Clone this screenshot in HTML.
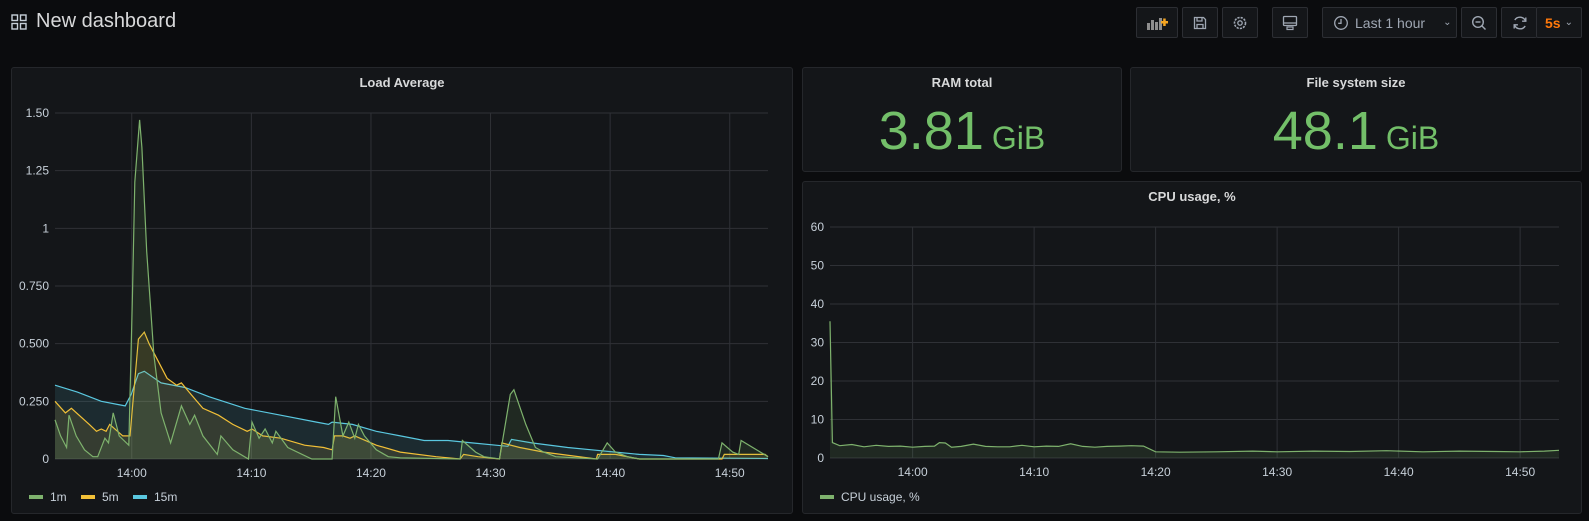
<!DOCTYPE html>
<html><head><meta charset="utf-8">
<style>
html,body{margin:0;padding:0;background:#0b0c0e;width:1589px;height:521px;overflow:hidden;font-family:"Liberation Sans",sans-serif;color:#d8d9da}
.abs{position:absolute}
.panel{position:absolute;background:#141619;border:1px solid #25272b;border-radius:3px;box-sizing:border-box}
.ptitle{position:absolute;left:0;right:0;text-align:center;font-size:13px;font-weight:bold;color:#d8d9da;top:7px}
.btn{position:absolute;top:7px;height:31px;border:1px solid #2c2e33;border-radius:2px;background:#141619;box-sizing:border-box;display:flex;align-items:center;justify-content:center;color:#9fa7b3;font-size:14px}
.big{position:absolute;left:0;right:0;text-align:center;top:32px;color:#73bf69;font-family:"Liberation Sans Narrow","Liberation Sans",sans-serif;white-space:nowrap}
.big .n{font-size:54px}
.big .u{font-size:32px;margin-left:8px}
</style></head><body>
<div class="abs" style="left:11px;top:14px;width:16px;height:16px">
<svg width="16" height="16"><g fill="none" stroke="#c7d0d9" stroke-width="1.4"><rect x="1" y="1" width="5.5" height="5.5"/><rect x="9.5" y="1" width="5.5" height="5.5"/><rect x="1" y="9.5" width="5.5" height="5.5"/><rect x="9.5" y="9.5" width="5.5" height="5.5"/></g></svg></div>
<div class="abs" style="left:36px;top:10px;font-size:20px;color:#d8d9da">New dashboard</div>

<div class="btn" style="left:1136px;width:42px"><svg width="22" height="14"><g fill="#8e8e8e"><rect x="1" y="7" width="3" height="7"/><rect x="5" y="4" width="3" height="10"/><rect x="9" y="6" width="3" height="8"/><rect x="13" y="2" width="3" height="12"/></g><g fill="#f5a623"><rect x="15" y="5" width="7" height="2.5"/><rect x="17.2" y="2.5" width="2.5" height="7.5"/></g></svg></div>
<div class="btn" style="left:1182px;width:36px"><svg width="14" height="14"><path d="M1.5 1.5h9l2 2v9h-11z M4 1.5v3.5h5v-3.5 M4 12.5v-4h6v4" fill="none" stroke="#9fa7b3" stroke-width="1.3"/></svg></div>
<div class="btn" style="left:1222px;width:36px"><svg width="16" height="16"><circle cx="8" cy="8" r="5.5" fill="none" stroke="#9fa7b3" stroke-width="1.6" stroke-dasharray="2.2 1.1"/><circle cx="8" cy="8" r="2.2" fill="none" stroke="#9fa7b3" stroke-width="1.3"/></svg></div>
<div class="btn" style="left:1272px;width:36px"><svg width="16" height="16"><rect x="1.5" y="1.5" width="13" height="9" rx="1" fill="none" stroke="#9fa7b3" stroke-width="1.3"/><line x1="1.5" y1="8" x2="14.5" y2="8" stroke="#9fa7b3" stroke-width="1.3"/><rect x="5" y="12" width="6" height="2.5" fill="none" stroke="#9fa7b3" stroke-width="1.2"/></svg></div>
<div class="btn" style="left:1322px;width:135px;justify-content:flex-start;padding-left:10px"><svg width="16" height="16"><circle cx="8" cy="8" r="6.3" fill="none" stroke="#9fa7b3" stroke-width="1.3"/><path d="M8 4v4.3h-2.8" fill="none" stroke="#9fa7b3" stroke-width="1.3"/></svg><span style="margin-left:6px;color:#9fa7b3">Last 1 hour</span><span style="margin-left:18px;font-size:10px">&#8964;</span></div>
<div class="btn" style="left:1461px;width:36px"><svg width="16" height="16"><circle cx="7" cy="7" r="5.3" fill="none" stroke="#9fa7b3" stroke-width="1.4"/><line x1="4.5" y1="7" x2="9.5" y2="7" stroke="#9fa7b3" stroke-width="1.4"/><line x1="11" y1="11" x2="14.5" y2="14.5" stroke="#9fa7b3" stroke-width="1.4"/></svg></div>
<div class="btn" style="left:1501px;width:36px;border-right:none"><svg width="16" height="16"><path d="M13.5 6A6 6 0 0 0 2.8 5 M2.5 10a6 6 0 0 0 10.7 1" fill="none" stroke="#9fa7b3" stroke-width="1.4"/><path d="M13.8 2.5v3.7h-3.7 M2.2 13.5v-3.7h3.7" fill="none" stroke="#9fa7b3" stroke-width="1.4"/></svg></div>
<div class="btn" style="left:1536px;width:46px"><span style="color:#ff780a;font-weight:bold">5s</span><span style="margin-left:4px;font-size:10px">&#8964;</span></div>

<div class="panel" style="left:11px;top:67px;width:782px;height:447px"><div class="ptitle">Load Average</div></div>
<div class="panel" style="left:802px;top:67px;width:320px;height:105px"><div class="ptitle">RAM total</div><div class="big"><span class="n">3.81</span><span class="u">GiB</span></div></div>
<div class="panel" style="left:1130px;top:67px;width:452px;height:105px"><div class="ptitle">File system size</div><div class="big"><span class="n">48.1</span><span class="u">GiB</span></div></div>
<div class="panel" style="left:802px;top:181px;width:780px;height:333px"><div class="ptitle">CPU usage, %</div></div>

<svg id="chart" class="abs" style="left:0;top:0" width="1589" height="521"></svg>

<script>
// time in minutes relative to 14:00
const timeTicks = [0,10,20,30,40,50];
const timeTickLabels = ["14:00","14:10","14:20","14:30","14:40","14:50"];
const loadTicks = [0,0.25,0.5,0.75,1,1.25,1.5];
const loadTickLabels = ["0","0.250","0.500","0.750","1","1.25","1.50"];
const cpuTicks = [0,10,20,30,40,50,60];
const cpuTickLabels = ["0","10","20","30","40","50","60"];
const load1mT = [-6.42,-5.95,-5.45,-5.25,-4.65,-3.95,-3.25,-2.85,-2.25,-1.95,-1.55,-1.05,-0.25,0.05,0.25,0.65,0.85,1.25,1.85,2.45,3.25,4.15,4.85,5.25,5.95,7.15,7.45,8.45,9.75,10.05,10.65,11.15,11.75,12.05,13.05,15.05,16.75,17.05,17.65,18.15,18.65,18.95,19.45,20.45,21.45,22.45,27.45,27.65,28.75,29.45,30.75,31.65,31.95,32.95,33.75,34.45,35.45,38.95,39.75,40.45,41.45,42.45,49.05,49.35,50.25,50.75,50.95,53.2];
const load1mV = [0.17,0.10,0.05,0.19,0.10,0.04,0.01,0.01,0.09,0.07,0.20,0.10,0.06,0.70,1.20,1.47,1.35,0.90,0.45,0.20,0.07,0.23,0.15,0.19,0.10,0.02,0.10,0.04,0.0,0.16,0.09,0.13,0.07,0.12,0.05,0.0,0.0,0.27,0.10,0.16,0.09,0.15,0.10,0.04,0.01,0.005,0.0,0.08,0.03,0.01,0.0,0.28,0.30,0.15,0.05,0.03,0.01,0.0,0.07,0.03,0.01,0.0,0.0,0.07,0.03,0.02,0.08,0.01];
const load5mT = [-6.42,-5.55,-5.05,-3.55,-2.95,-2.55,-2.15,-1.85,-0.75,-0.15,0.55,1.05,1.45,2.95,3.75,4.15,4.95,5.95,7.25,8.45,9.65,10.05,10.95,12.45,14.45,16.05,16.75,16.95,17.65,18.25,18.65,20.45,22.45,25.45,27.45,27.75,28.95,30.75,30.95,32.45,34.45,38.85,38.95,40.45,42.45,49.35,49.55,52.95,53.2];
const load5mV = [0.25,0.20,0.22,0.15,0.12,0.13,0.12,0.15,0.10,0.10,0.52,0.55,0.50,0.35,0.32,0.33,0.28,0.22,0.19,0.15,0.12,0.13,0.10,0.09,0.06,0.05,0.04,0.10,0.10,0.09,0.10,0.06,0.03,0.01,0.0,0.02,0.01,0.0,0.07,0.05,0.03,0.0,0.02,0.02,0.0,0.0,0.02,0.02,0.01];
const load15mT = [-6.42,-4.55,-2.55,-0.55,-0.05,0.55,1.05,2.45,4.45,6.45,9.45,12.45,15.45,16.45,16.75,18.45,20.45,22.45,24.45,26.45,28.45,30.45,31.45,31.75,33.45,36.45,38.45,40.45,42.45,44.45,45.45,53.2];
const load15mV = [0.32,0.29,0.25,0.23,0.28,0.37,0.38,0.33,0.31,0.27,0.22,0.19,0.16,0.15,0.16,0.15,0.12,0.10,0.08,0.08,0.07,0.06,0.055,0.085,0.07,0.05,0.04,0.03,0.02,0.015,0.005,0.002];
const cpuT = [-6.8,-6.6,-6.0,-5.0,-4.0,-3.0,-2.0,-1.0,0,1,1.8,2.2,2.7,3.2,4,5,6,7,8,9,10,11,12,13,14,15,16,17,18,19,20,22,25,28,30,33,36,39,42,45,48,50,52,53.2];
const cpuV = [35.5,4.0,3.2,3.5,2.9,3.3,3.0,3.1,2.8,3.0,3.1,4.0,3.9,2.8,3.0,3.6,3.0,2.9,2.9,3.3,2.9,3.1,3.0,3.7,3.0,2.8,3.0,3.1,3.2,3.1,1.6,1.5,1.6,1.8,1.6,1.8,1.7,1.9,1.6,1.8,1.7,1.6,1.8,2.0];

const NS="http://www.w3.org/2000/svg";
const svg=document.getElementById('chart');
function mk(tag,attrs,parent){const e=document.createElementNS(NS,tag);for(const k in attrs)e.setAttribute(k,attrs[k]);(parent||svg).appendChild(e);return e;}
function scale(d0,d1,r0,r1){return v=>r0+(v-d0)/(d1-d0)*(r1-r0);}

function drawChart(cfg){
  const g=mk('g',{});
  
  
  const x=scale(cfg.t0,cfg.t1,cfg.left,cfg.right), y=scale(0,cfg.ymax,cfg.bottom,cfg.top);
  cfg.yTicks.forEach((v,i)=>{
    const l=mk('line',{x1:cfg.left,x2:cfg.right,y1:y(v),y2:y(v),stroke:'#2f3136','stroke-width':1},g);
    
    
    const t=mk('text',{x:cfg.left-6,y:y(v)+4,'text-anchor':'end','font-size':12,fill:'#c7d0d9','font-family':'Liberation Sans, sans-serif'},g);
    t.textContent=cfg.yLabels[i];
    
    
  });
  timeTicks.forEach((v,i)=>{
    const l=mk('line',{x1:x(v),x2:x(v),y1:cfg.top,y2:cfg.bottom,stroke:'#2f3136','stroke-width':1},g);
    
    
    const t=mk('text',{x:x(v),y:cfg.bottom+18,'text-anchor':'middle','font-size':12,fill:'#c7d0d9','font-family':'Liberation Sans, sans-serif'},g);
    t.textContent=timeTickLabels[i];
    
    
  });
  cfg.series.forEach(s=>{
    let d='';
    s.t.forEach((tv,i)=>{d+=(i?'L':'M')+x(tv).toFixed(1)+','+y(s.v[i]).toFixed(1);});
    const area=mk('path',{d:d+'L'+x(s.t[s.t.length-1])+','+cfg.bottom+'L'+x(s.t[0])+','+cfg.bottom+'Z',fill:s.color,'fill-opacity':0.12,stroke:'none'},g);
    
    
    const line=mk('path',{d:d,fill:'none',stroke:s.color,'stroke-width':1.2},g);
    
    
  });
}
drawChart({name:'load-average-chart',t0:-6.42,t1:53.2,left:55,right:768,top:113,bottom:459,ymax:1.5,yTicks:loadTicks,yLabels:loadTickLabels,
  series:[{name:'load-15m',t:load15mT,v:load15mV,color:'#5ac8e0'},{name:'load-5m',t:load5mT,v:load5mV,color:'#f2c037'},{name:'load-1m',t:load1mT,v:load1mV,color:'#7eb26d'}]});
drawChart({name:'cpu-usage-chart',t0:-6.8,t1:53.2,left:830,right:1559,top:227,bottom:458,ymax:60,yTicks:cpuTicks,yLabels:cpuTickLabels,
  series:[{name:'cpu-usage',t:cpuT,v:cpuV,color:'#7eb26d'}]});

function legend(items,x0,y0){
  let x=x0;
  items.forEach(it=>{
    const g=mk('g',{});
    
    
    mk('rect',{x:x,y:y0-2,width:14,height:4,fill:it.color},g);
    const t=mk('text',{x:x+21,y:y0+4,'font-size':12,fill:'#c7d0d9','font-family':'Liberation Sans, sans-serif'},g);
    t.textContent=it.label;
    x+=21+it.w+14;
  });
}
legend([{label:'1m',color:'#7eb26d',w:17},{label:'5m',color:'#f2c037',w:17},{label:'15m',color:'#5ac8e0',w:24}],29,497);
legend([{label:'CPU usage, %',color:'#7eb26d',w:80}],820,497);
</script>
</body></html>
